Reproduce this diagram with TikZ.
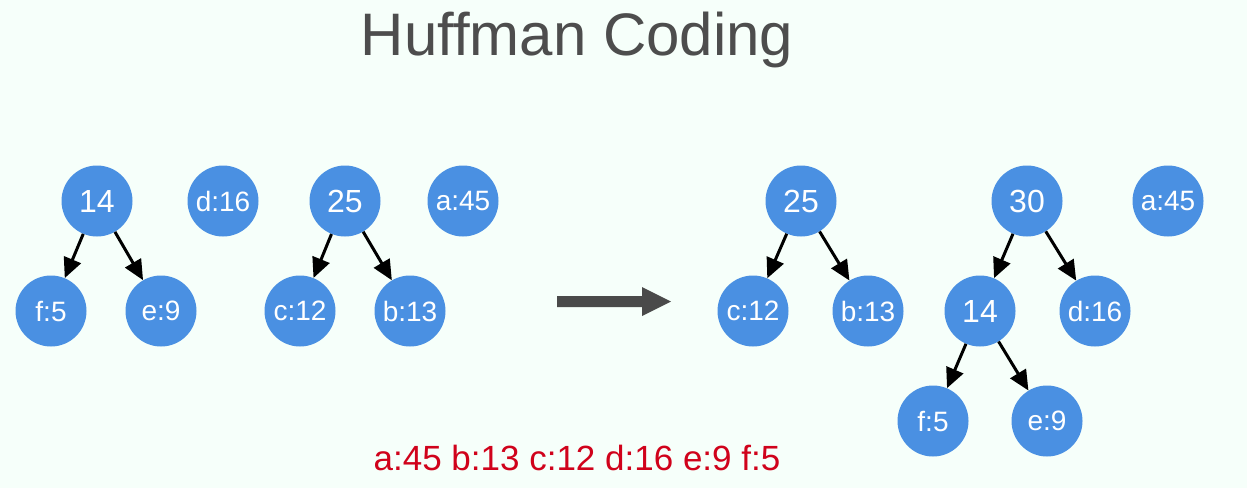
\documentclass[tikz,border=0pt]{standalone}
\usepackage{fontspec}
\setmainfont{Liberation Sans}
\usetikzlibrary{arrows.meta}
\definecolor{bgc}{RGB}{246,255,250}
\definecolor{nodeblue}{RGB}{74,144,226}
\definecolor{titlegray}{RGB}{77,77,77}
\definecolor{arrowgray}{RGB}{74,74,74}
\definecolor{codered}{RGB}{208,2,27}
\tikzset{
  hnode/.style={circle, fill=nodeblue, text=white, minimum size=71pt, inner sep=0pt, font=\fontsize{28}{30}\selectfont},
  hnum/.style={hnode, font=\fontsize{32}{34}\selectfont},
  edge/.style={line width=3pt, draw=black, -{Triangle[length=20pt,width=18pt]}},
}
\begin{document}
\begin{tikzpicture}[x=1pt,y=-1pt]
\fill[bgc] (0,0) rectangle (1247,488);
\useasboundingbox (0,0) rectangle (1247,488);
\node[text=titlegray, font=\fontsize{60}{70}\selectfont] (title) at (577,40) {Huffman Coding};
% left forest
\node[hnum] (L14) at (97,201) {14};
\node[hnode] (Ld) at (223,201) {d:16};
\node[hnum] (L25) at (345,201) {25};
\node[hnode] (La) at (463,201) {a:45};
\node[hnode] (Lf) at (51,311) {f:5};
\node[hnode] (Le) at (161,311) {e:9};
\node[hnode] (Lc) at (300,311) {c:12};
\node[hnode] (Lb) at (410,311) {b:13};
\draw[edge] (L14) -- (Lf);
\draw[edge] (L14) -- (Le);
\draw[edge] (L25) -- (Lc);
\draw[edge] (L25) -- (Lb);
% big arrow
\fill[arrowgray] (557,296) -- (642,296) -- (642,287) -- (671,301.5) -- (642,316) -- (642,307) -- (557,307) -- cycle;
% right forest
\node[hnum] (R25) at (801,201) {25};
\node[hnum] (R30) at (1027,201) {30};
\node[hnode] (Ra) at (1168,201) {a:45};
\node[hnode] (Rc) at (753,311) {c:12};
\node[hnode] (Rb) at (868,311) {b:13};
\node[hnum] (R14) at (980,311) {14};
\node[hnode] (Rd) at (1095,311) {d:16};
\node[hnode] (Rf) at (933,421) {f:5};
\node[hnode] (Re) at (1047,421) {e:9};
\draw[edge] (R25) -- (Rc);
\draw[edge] (R25) -- (Rb);
\draw[edge] (R30) -- (R14);
\draw[edge] (R30) -- (Rd);
\draw[edge] (R14) -- (Rf);
\draw[edge] (R14) -- (Re);
% codes
\node[text=codered, font=\fontsize{35}{40}\selectfont] (codes) at (577,458) {a:45 b:13 c:12 d:16 e:9 f:5};
\end{tikzpicture}
\end{document}
